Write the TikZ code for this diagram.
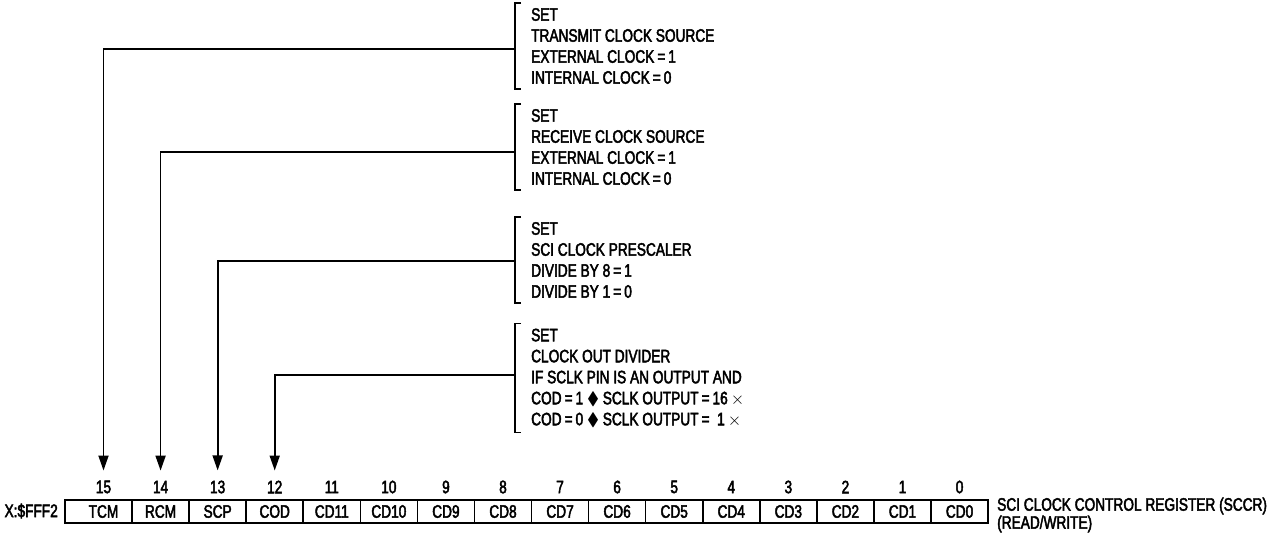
\documentclass[tikz,border=0pt]{standalone}
\usepackage{amssymb}
\usepackage{fontspec}
\setmainfont{Liberation Sans}[FakeStretch=0.76,FakeBold=2.5]
\usetikzlibrary{arrows.meta,calc}
\begin{document}
\begin{tikzpicture}[x=1pt,y=-1pt,
  every node/.style={font=\fontsize{18}{21}\selectfont, inner sep=0pt},
  lbl/.style={align=left, anchor=west},
  cell/.style={draw, line width=1.6pt, minimum width=57.07pt, minimum height=23pt},
  conn/.style={line width=1.8pt, -{Triangle[length=15pt,width=10pt]}, shorten >=10pt},
  brk/.style={line width=1.8pt}]
\useasboundingbox (0,0) rectangle (1280,538);

% register
\node[cell, minimum width=67pt] (c15) at (98.5,511.5) {\hspace*{10pt}TCM};
\node (n15) at (103.5,487) {15};
\foreach \lab [count=\k from 1] in {RCM,SCP,COD,CD11,CD10,CD9,CD8,CD7,CD6,CD5,CD4,CD3,CD2,CD1,CD0} {
  \pgfmathtruncatemacro\b{15-\k}
  \node[cell] (c\b) at ({103.5+57.07*\k},511.5) {\lab};
  \node (n\b) at ({103.5+57.07*\k},487) {\b};
}
\node[anchor=east] (addr) at (58,511) {X:\$FFF2};
\node[anchor=west] (r1) at (997,506) {SCI CLOCK CONTROL REGISTER (SCCR)};
\node[anchor=west] (r2) at (997,524) {(READ/WRITE)};

% description blocks
\node[lbl] (t1) at (531,46) {SET\\TRANSMIT CLOCK SOURCE\\EXTERNAL CLOCK\,=\,1\\INTERNAL CLOCK\,=\,0};
\node[lbl] (t2) at (531,147) {SET\\RECEIVE CLOCK SOURCE\\EXTERNAL CLOCK\,=\,1\\INTERNAL CLOCK\,=\,0};
\node[lbl] (t3) at (531,260) {SET\\SCI CLOCK PRESCALER\\DIVIDE BY 8\,=\,1\\DIVIDE BY 1\,=\,0};
\node[lbl] (t4) at (531,378) {SET\\CLOCK OUT DIVIDER\\IF SCLK PIN IS AN OUTPUT AND\\COD\,=\,1 $\blacklozenge$ SCLK OUTPUT\,=\,16\,$\times$\\COD\,=\,0 $\blacklozenge$ SCLK OUTPUT\,=\ \ 1\,$\times$};

% brackets
\foreach \t in {1,2,3,4} {
  \draw[brk] ([shift={(-10pt,5pt)}]t\t.north west) -- ([shift={(-16pt,5pt)}]t\t.north west)
     -- ([shift={(-16pt,-5pt)}]t\t.south west) -- ([shift={(-10pt,-5pt)}]t\t.south west);
}
\coordinate (m1) at (515,49);
\coordinate (m2) at (515,152);
\coordinate (m3) at (515,261);
\coordinate (m4) at (515,375);

\draw[conn] (m1) -| (n15.north);
\draw[conn] (m2) -| (n14.north);
\draw[conn] (m3) -| (n13.north);
\draw[conn] (m4) -| (n12.north);
\end{tikzpicture}
\end{document}
